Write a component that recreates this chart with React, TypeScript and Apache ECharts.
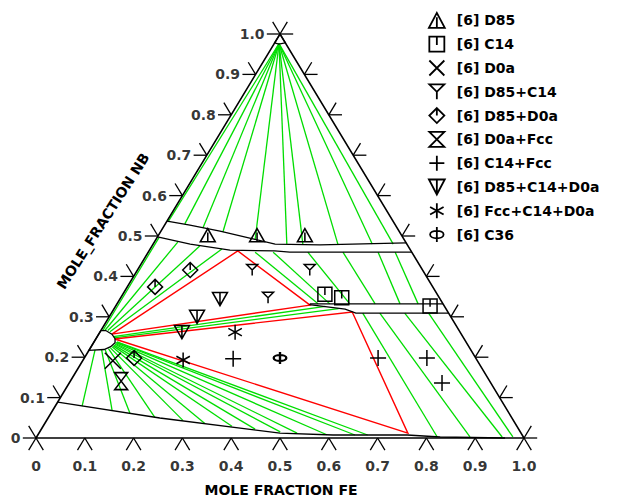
import React, { useEffect, useRef } from "react";
import * as echarts from "echarts";

// ---------- axis ticks ----------
const TICK_VALUES = [0, 0.1, 0.2, 0.3, 0.4, 0.5, 0.6, 0.7, 0.8, 0.9, 1.0];
const TICK_LABELS = ["0", "0.1", "0.2", "0.3", "0.4", "0.5", "0.6", "0.7", "0.8", "0.9", "1.0"];

// ---------- experimental points [x(Fe), x(Nb)] ----------
const D85_PTS = [[0.101, 0.502], [0.202, 0.502], [0.300, 0.502]];
const C14_PTS = [[0.414, 0.356], [0.453, 0.347], [0.644, 0.327]];
const D0A_PTS = [[0.062, 0.191]];
const D85_C14_PTS = [[0.235, 0.416], [0.353, 0.416], [0.302, 0.347]];
const D85_D0A_PTS = [[0.108, 0.416], [0.057, 0.374], [0.102, 0.198]];
const D0A_FCC_PTS = [[0.104, 0.141]];
const C14_FCC_PTS = [[0.306, 0.196], [0.602, 0.198], [0.702, 0.198], [0.764, 0.136]];
const D85_C14_D0A_PTS = [[0.205, 0.344], [0.180, 0.300], [0.168, 0.262]];
const FCC_C14_D0A_PTS = [[0.277, 0.262], [0.205, 0.193]];
const C36_PTS = [[0.401, 0.198]];

// ---------- phase boundaries [x(Fe), x(Nb)] ----------
const NB_REGION = [[0, 1], [0, 0.978], [0.01, 0.975], [0.022, 0.978], [0, 1]];
const D85_UPPER = [[0, 0.537], [0.052, 0.527], [0.121, 0.512], [0.198, 0.493], [0.250, 0.480], [0.343, 0.478], [0.517, 0.483]];
const D85_LOWER = [[0, 0.498], [0.076, 0.480], [0.165, 0.465], [0.258, 0.463], [0.290, 0.460], [0.540, 0.460]];
const C14_UPPER = [[0.395, 0.332], [0.668, 0.332]];
const C14_LOWER = [[0.395, 0.330], [0.474, 0.319], [0.501, 0.309], [0.691, 0.309]];
const D0A_REGION = [[0, 0.266], [0.010, 0.266], [0.027, 0.257], [0.039, 0.246], [0.044, 0.236], [0.040, 0.226], [0.030, 0.219], [0, 0.217], [0, 0.266]];
const FCC_BOUNDARY = [[0, 0.089], [0.229, 0.0495], [0.494, 0.012], [0.605, 0.0074], [0.757, 0.0074], [0.827, 0.0025], [0.961, 0]];

// ---------- tie triangles ----------
const TIE_TRI_1 = [[0.027, 0.257], [0.182, 0.463], [0.397, 0.329], [0.027, 0.257]];
const TIE_TRI_2 = [[0.039, 0.245], [0.492, 0.312], [0.756, 0.012], [0.039, 0.245]];

// ---------- tie lines ----------
const NB_ORIGIN = [0.01, 0.976];
const NB_D85_ENDS = [[0.003, 0.535], [0.040, 0.530], [0.082, 0.520], [0.128, 0.510], [0.204, 0.490], [0.274, 0.480], [0.308, 0.478], [0.380, 0.478], [0.449, 0.480], [0.492, 0.480]];
const D0A_D85_TIES = [
  [[0.004, 0.266], [0.004, 0.496]],
  [[0.008, 0.266], [0.048, 0.485]],
  [[0.014, 0.266], [0.098, 0.475]],
  [[0.020, 0.263], [0.147, 0.468]],
];
const D0A_C14_TIES = [
  [[0.033, 0.251], [0.43, 0.326]],
  [[0.036, 0.248], [0.46, 0.320]],
];
const D0A_FCC_TIES = [
  [[0.012, 0.218], [0.055, 0.079]],
  [[0.025, 0.219], [0.122, 0.068]],
  [[0.032, 0.219], [0.162, 0.061]],
  [[0.038, 0.221], [0.218, 0.051]],
  [[0.041, 0.223], [0.280, 0.043]],
  [[0.043, 0.226], [0.328, 0.036]],
  [[0.044, 0.228], [0.387, 0.029]],
  [[0.045, 0.230], [0.438, 0.022]],
  [[0.046, 0.232], [0.493, 0.015]],
  [[0.046, 0.234], [0.529, 0.012]],
  [[0.046, 0.236], [0.592, 0.008]],
  [[0.047, 0.237], [0.650, 0.0074]],
  [[0.047, 0.238], [0.676, 0.0074]],
];
const D85_C14_TIES = [
  [[0.219, 0.460], [0.412, 0.332]],
  [[0.256, 0.460], [0.436, 0.332]],
  [[0.327, 0.460], [0.477, 0.332]],
  [[0.399, 0.460], [0.529, 0.332]],
  [[0.471, 0.460], [0.580, 0.332]],
  [[0.506, 0.460], [0.617, 0.332]],
];
const C14_FCC_TIES = [
  [[0.515, 0.309], [0.821, 0.0025]],
  [[0.550, 0.309], [0.888, 0.0025]],
  [[0.601, 0.309], [0.954, 0.0025]],
  [[0.650, 0.309], [0.976, 0.0025]],
];

// ---------- helpers ----------
const tern = (p: number[]) => [p[0] + p[1] / 2, p[1]];
const poly = (pts: number[][]) => ({ coords: pts.map(tern) });
const seg = (a: number[], b: number[]) => ({ coords: [tern(a), tern(b)] });

const FONT = "'DejaVu Sans', 'Liberation Sans', Arial, sans-serif";
const GREEN = "#00dd00";
const RED = "#ff0000";

const SYM = {
  d85: "path://M10 1 L19 18 L1 18 Z M10 6 L10 18",
  c14: "path://M1 1 L19 1 L19 19 L1 19 Z M10 1 L10 11",
  d0a: "path://M0 0 L20 20 M20 0 L0 20",
  d85c14: "path://M2 2 L18 2 L10 10 Z M10 10 L10 18",
  d85d0a: "path://M10 0 L20 10 L10 20 L0 10 Z M10 0 L10 10",
  d0afcc: "path://M1 1 L19 1 L1 19 L19 19 Z",
  c14fcc: "path://M10 0 L10 20 M0 10 L20 10",
  d85c14d0a: "path://M1 2 L19 2 L10 19 Z M10 2 L10 19",
  fccc14d0a: "path://M10 0 L10 20 M1 5 L19 15 M19 5 L1 15",
  c36: "path://M1 10 C1 7 5 5 10 5 C15 5 19 7 19 10 C19 13 15 15 10 15 C5 15 1 13 1 10 Z M10 0 L10 20",
};

function markerSeries(name: string, pts: number[][], symbol: string, size: number[], bw = 1.5) {
  return {
    type: "scatter",
    name,
    data: pts.map(tern),
    symbol,
    symbolSize: size,
    symbolKeepAspect: true,
    itemStyle: { color: "rgba(0,0,0,0)", borderColor: "#000", borderWidth: bw, opacity: 1 },
    silent: true,
    z: 10,
    clip: false,
  };
}

function linesSeries(data: any[], color: string, width: number, z: number) {
  return {
    type: "lines",
    coordinateSystem: "cartesian2d",
    polyline: true,
    silent: true,
    clip: false,
    z,
    lineStyle: { color, width, opacity: 1 },
    data,
  };
}

export default function App() {
  const ref = useRef<HTMLDivElement>(null);
  useEffect(() => {
    document.body.style.margin = "0";
    const chart = echarts.init(ref.current!, null, { renderer: "svg" });

    const D = 0.03;
    const E = 0.027;
    const tickSegs: any[] = [];
    TICK_VALUES.forEach((v) => {
      tickSegs.push({ coords: [[v, 0], [v - D / 2, -D]] });
      tickSegs.push({ coords: [[v, 0], [v + D / 2, -D]] });
      tickSegs.push({ coords: [[v / 2, v], [v / 2 - E, v]] });
      tickSegs.push({ coords: [[v / 2, v], [v / 2 - D / 2, v + D]] });
      tickSegs.push({ coords: [[1 - v / 2, v], [1 - v / 2 + E, v]] });
      tickSegs.push({ coords: [[1 - v / 2, v], [1 - v / 2 + D / 2, v + D]] });
    });

    const fanData = NB_D85_ENDS.map((e) => seg(NB_ORIGIN, e));
    const tieData = [
      ...fanData,
      ...D0A_D85_TIES.map((t) => seg(t[0], t[1])),
      ...D0A_C14_TIES.map((t) => seg(t[0], t[1])),
      ...D0A_FCC_TIES.map((t) => seg(t[0], t[1])),
      ...D85_C14_TIES.map((t) => seg(t[0], t[1])),
      ...C14_FCC_TIES.map((t) => seg(t[0], t[1])),
    ];

    const labelStyle = { fontFamily: FONT, fontWeight: "bold", fontSize: 14, color: "#000" };

    chart.setOption({
      animation: false,
      grid: { left: 36, top: 34, width: 488, height: 404 },
      xAxis: { type: "value", min: 0, max: 1, show: false },
      yAxis: { type: "value", min: 0, max: 1, show: false },
      legend: {
        orient: "vertical",
        left: 423,
        top: 7,
        itemWidth: 30,
        itemHeight: 15,
        itemGap: 7,
        selectedMode: false,
        symbolKeepAspect: true,
        itemStyle: { borderWidth: 1.8, borderColor: "#000" },
        textStyle: { ...labelStyle },
        data: [
          "[6] D85", "[6] C14", "[6] D0a", "[6] D85+C14", "[6] D85+D0a",
          "[6] D0a+Fcc", "[6] C14+Fcc", "[6] D85+C14+D0a", "[6] Fcc+C14+D0a", "[6] C36",
        ],
      },
      graphic: [
        {
          type: "text",
          x: 281,
          y: 490,
          style: { text: "MOLE FRACTION FE", fill: "#000", font: `bold 14px ${FONT}`, textAlign: "center", textVerticalAlign: "middle" },
        },
        {
          type: "text",
          x: 103,
          y: 221,
          rotation: 1.0,
          style: { text: "MOLE_FRACTION NB", fill: "#000", font: `bold 14px ${FONT}`, textAlign: "center", textVerticalAlign: "middle" },
        },
      ],
      series: [
        linesSeries(tieData, GREEN, 1.3, 2),
        linesSeries([poly(TIE_TRI_1), poly(TIE_TRI_2)], RED, 1.4, 3),
        linesSeries(
          [poly(NB_REGION), poly(D85_UPPER), poly(D85_LOWER), poly(C14_UPPER), poly(C14_LOWER), poly(D0A_REGION), poly(FCC_BOUNDARY)],
          "#000", 1.3, 4
        ),
        linesSeries([{ coords: [[0, 0], [1, 0], [0.5, 1], [0, 0]] }], "#000", 1.6, 5),
        linesSeries(tickSegs, "#000", 1.3, 5),
        {
          type: "scatter",
          data: TICK_VALUES.map((v) => [v, 0]),
          symbolSize: 1,
          itemStyle: { color: "rgba(0,0,0,0)" },
          silent: true,
          label: { show: true, position: "bottom", distance: 20, formatter: (p: any) => TICK_LABELS[p.dataIndex], ...labelStyle },
        },
        {
          type: "scatter",
          data: TICK_VALUES.map((v) => [v / 2, v]),
          symbolSize: 1,
          itemStyle: { color: "rgba(0,0,0,0)" },
          silent: true,
          label: { show: true, position: "left", distance: 15, formatter: (p: any) => TICK_LABELS[p.dataIndex], ...labelStyle },
        },
        markerSeries("[6] D85", D85_PTS, SYM.d85, [15, 14]),
        markerSeries("[6] C14", C14_PTS, SYM.c14, [14, 14]),
        markerSeries("[6] D0a", D0A_PTS, SYM.d0a, [16, 16]),
        markerSeries("[6] D85+C14", D85_C14_PTS, SYM.d85c14, [11, 11]),
        markerSeries("[6] D85+D0a", D85_D0A_PTS, SYM.d85d0a, [15, 15]),
        markerSeries("[6] D0a+Fcc", D0A_FCC_PTS, SYM.d0afcc, [13, 17]),
        markerSeries("[6] C14+Fcc", C14_FCC_PTS, SYM.c14fcc, [16, 16]),
        markerSeries("[6] D85+C14+D0a", D85_C14_D0A_PTS, SYM.d85c14d0a, [15, 14]),
        markerSeries("[6] Fcc+C14+D0a", FCC_C14_D0A_PTS, SYM.fccc14d0a, [15, 15]),
        markerSeries("[6] C36", C36_PTS, SYM.c36, [14, 12], 2.2),
      ],
    });
    return () => chart.dispose();
  }, []);
  return <div ref={ref} style={{ width: 619, height: 499 }} />;
}
